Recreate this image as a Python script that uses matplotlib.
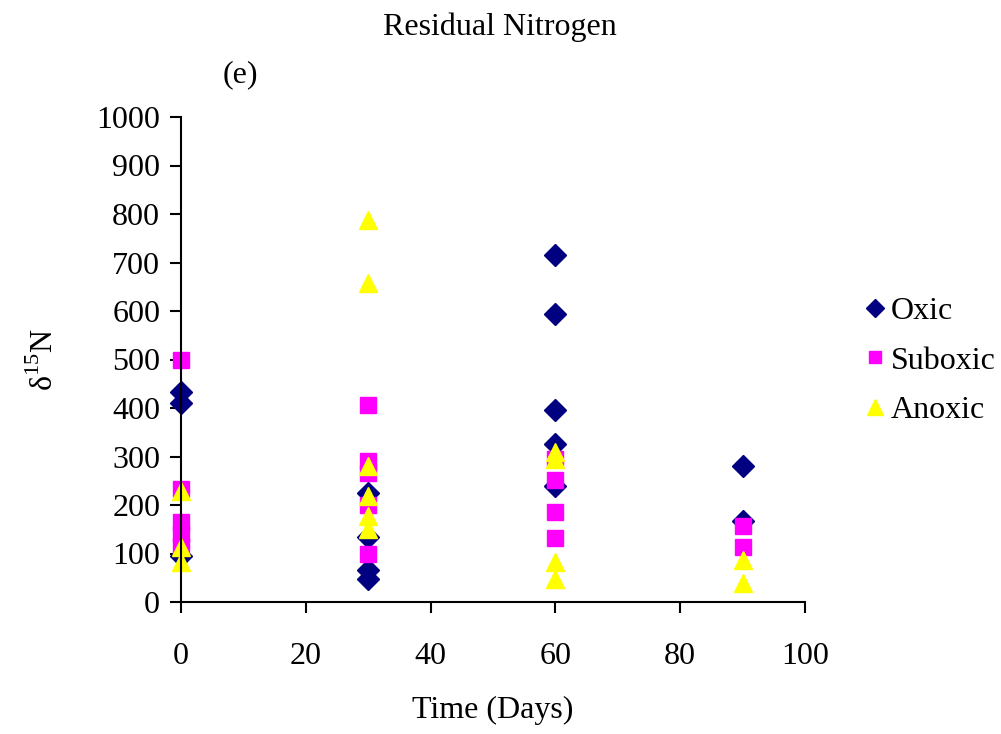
import matplotlib.pyplot as plt

plt.rcParams['font.family'] = ['Liberation Serif', 'DejaVu Serif']
plt.rcParams['mathtext.fontset'] = 'custom'
plt.rcParams['mathtext.rm'] = 'Liberation Serif'

# values
oxic_x = [0, 0, 0, 30, 30, 30, 30, 60, 60, 60, 60, 60, 90, 90]
oxic_y = [434, 410, 95, 225, 135, 66, 47, 715, 593, 395, 325, 240, 280, 168]

suboxic_x = [0, 0, 0, 0, 0, 30, 30, 30, 30, 30, 60, 60, 60, 60, 90, 90]
suboxic_y = [500, 232, 165, 140, 115, 406, 290, 265, 200, 100, 295, 252, 186, 132, 157, 114]

anoxic_x = [0, 0, 0, 30, 30, 30, 30, 30, 30, 60, 60, 60, 60, 90, 90]
anoxic_y = [228, 113, 82, 788, 657, 280, 218, 178, 150, 310, 295, 83, 47, 87, 39]

fig = plt.figure(figsize=(10.01, 7.34), dpi=100)
ax = fig.add_axes([181/1001, 1 - 602/734, (805-181)/1001, (602-117)/734])

ax.plot(oxic_x, oxic_y, 'D', color='#000080', ms=11, mec='#000080', label='Oxic', clip_on=False)
ax.plot(suboxic_x, suboxic_y, 's', color='#FF00FF', ms=11, mec='#FF00FF', label='Suboxic', clip_on=False)
ax.plot(anoxic_x, anoxic_y, '^', color='#FFFF00', ms=13, mec='#FFFF00', label='Anoxic', clip_on=False)

ax.set_xlim(0, 100)
ax.set_ylim(0, 1000)
ax.set_xticks(range(0, 101, 20))
ax.set_yticks(range(0, 1001, 100))
for s in ('top', 'right'):
    ax.spines[s].set_visible(False)
for s in ('left', 'bottom'):
    ax.spines[s].set_linewidth(1.5)
ax.tick_params(axis='both', direction='out', length=8, width=1.5, labelsize=23)
ax.tick_params(axis='x', pad=21)
ax.tick_params(axis='y', pad=7)

ax.set_xlabel('Time (Days)', fontsize=23, labelpad=18)
ax.set_ylabel(r'δ$^{\mathrm{15}}$N', fontsize=23, labelpad=26)
fig.text(500/1001, 1 - 27/734, 'Residual Nitrogen', ha='center', va='center', fontsize=23)
fig.text(240/1001, 1 - 75/734, '(e)', ha='center', va='center', fontsize=23)

ax.legend(loc='center left', bbox_to_anchor=(1.097, 0.497), frameon=False, fontsize=23,
          handlelength=0.6, handletextpad=0.2, labelspacing=0.62, markerscale=0.85,
          borderaxespad=0, borderpad=0)

fig.savefig('out.png', dpi=100)
